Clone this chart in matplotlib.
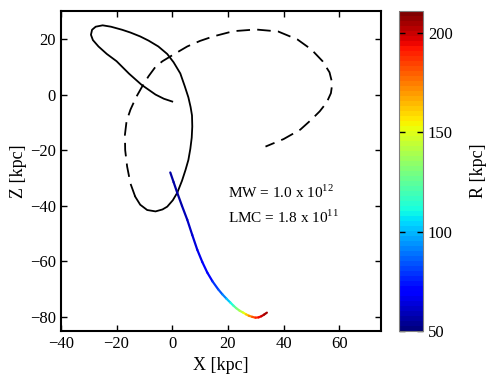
import numpy as np
import matplotlib
matplotlib.use("Agg")
import matplotlib.pyplot as plt
from matplotlib.collections import LineCollection
from matplotlib.colors import Normalize

plt.rcParams["font.family"] = ["Liberation Serif", "DejaVu Serif"]
plt.rcParams["mathtext.fontset"] = "custom"
plt.rcParams["mathtext.rm"] = "Liberation Serif"

# solid black orbit (X, Z in kpc)
solid_x = [-13.3, -11.5, -9.0, -6.0, -3.5, -1.8, 0.2, 1.8, 3.5, 4.8, 5.8, 6.5, 7.0, 7.2,
           7.1, 6.6, 5.8, 4.5, 2.9, 0.5, -1.8, -5.0, -8.5, -11.5, -15.0, -18.0, -22.0,
           -25.0, -27.5, -28.8, -29.2, -28.5, -26.5, -23.5, -20.0, -15.5, -11.0, -6.0,
           -3.0, 0.0]
solid_z = [-36.7, -39.6, -41.5, -42.0, -41.3, -40.3, -38.0, -35.3, -31.0, -27.0, -23.5,
           -19.5, -15.5, -11.5, -7.5, -4.5, -1.0, 3.0, 7.6, 11.6, 14.6, 17.3, 19.4,
           20.9, 22.3, 23.3, 24.4, 24.9, 24.4, 23.3, 21.5, 19.6, 17.3, 14.6, 12.0, 7.5,
           3.5, 0.0, -1.5, -2.5]

# dashed black orbit
dash_x = [-13.3, -15.0, -16.2, -16.9, -17.0, -16.4, -15.0, -13.0, -10.8, -8.5, -6.0,
          -3.5, -0.7, 2.5, 5.4, 10.0, 14.7, 22.0, 30.0, 38.0, 45.0, 50.0, 54.0, 56.5,
          57.5, 57.0, 55.5, 53.0, 50.0, 46.0, 40.0, 33.5]
dash_z = [-36.7, -32.0, -25.9, -20.0, -14.5, -9.5, -5.4, -1.0, 2.9, 6.6, 10.0,
          12.0, 13.7, 15.6, 17.3, 19.3, 20.9, 22.8, 23.4, 22.7, 19.8, 16.2, 12.0, 8.0,
          4.0, 0.5, -2.8, -6.0, -9.0, -12.6, -16.0, -18.7]

# coloured LMC track and its R values
lmc_x = [-0.7, 0.5, 1.8, 3.5, 5.4, 7.2, 9.0, 10.8, 12.6, 14.5, 16.5, 18.0, 19.5, 20.9,
         22.0, 23.0, 24.2, 25.5, 26.5, 27.5, 28.7, 29.9, 31.0, 32.0, 33.0, 34.0]
lmc_z = [-28.0, -31.5, -35.3, -40.0, -45.0, -50.5, -55.8, -60.2, -64.0, -67.2, -70.0,
         -71.8, -73.4, -74.8, -75.9, -76.8, -77.7, -78.4, -79.0, -79.5, -79.9, -80.2,
         -80.1, -79.7, -79.1, -78.4]
lmc_r = [55, 56, 57, 58, 60, 62, 64, 67, 70, 75, 82, 88, 96, 106,
         116, 125, 137, 148, 158, 168, 177, 185, 192, 198, 203, 208]

fig = plt.figure(figsize=(4.91, 3.84), dpi=100)
ax = fig.add_axes([0.124, 0.138, 0.652, 0.833])
cax = fig.add_axes([0.8126, 0.138, 0.049, 0.833])

ax.plot(solid_x, solid_z, color="black", lw=1.3, solid_joinstyle="round")
ax.plot(dash_x, dash_z, color="black", lw=1.3, dashes=(7.5, 4), dash_joinstyle="round")

pts = np.column_stack([lmc_x, lmc_z])
segs = np.stack([pts[:-1], pts[1:]], axis=1)
seg_r = 0.5 * (np.array(lmc_r[:-1]) + np.array(lmc_r[1:]))
cmap = plt.get_cmap("jet", 64)
norm = Normalize(vmin=50, vmax=211)
lc = LineCollection(segs, cmap=cmap, norm=norm, linewidths=1.6, capstyle="round")
lc.set_array(seg_r)
ax.add_collection(lc)

ax.text(20, -35, r"MW = 1.0 x 10$^{12}$", fontsize=11, va="center")
ax.text(20, -44.3, r"LMC = 1.8 x 10$^{11}$", fontsize=11, va="center")

ax.set_xlim(-40, 75)
ax.set_ylim(-85, 30)
ax.set_xticks([-40, -20, 0, 20, 40, 60])
ax.set_yticks([-80, -60, -40, -20, 0, 20])
ax.tick_params(direction="in", top=True, right=True, length=4, width=1, labelsize=12)
for s in ax.spines.values():
    s.set_linewidth(1.5)
ax.set_xlabel("X [kpc]", fontsize=13, labelpad=4)
ax.set_ylabel("Z [kpc]", fontsize=13, labelpad=2)

cb = fig.colorbar(lc, cax=cax)
cb.set_ticks([50, 100, 150, 200])
cb.ax.tick_params(direction="in", length=4, width=1, labelsize=12, left=True, right=True)
cb.outline.set_edgecolor("gray")
cb.set_label("R [kpc]", fontsize=13, labelpad=12)

fig.savefig("out.png", dpi=100)
